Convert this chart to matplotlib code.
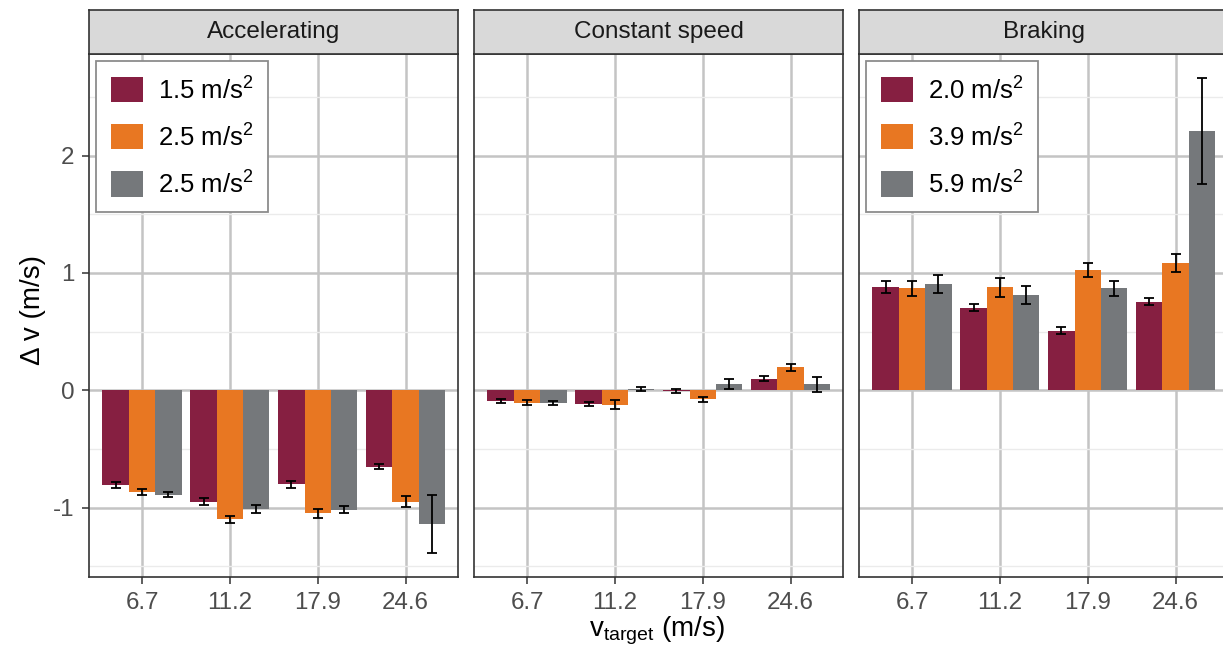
import numpy as np
import matplotlib
matplotlib.use('Agg')
import matplotlib.pyplot as plt

plt.rcParams['font.family'] = ['Liberation Sans', 'DejaVu Sans']
plt.rcParams['mathtext.fontset'] = 'custom'
plt.rcParams['mathtext.rm'] = 'Liberation Sans'
plt.rcParams['axes.unicode_minus'] = False

# speed targets and manoeuvre panels
categories = ['6.7', '11.2', '17.9', '24.6']
panels = ['Accelerating', 'Constant speed', 'Braking']

# mean delta v (m/s) for low / mid / high acceleration level
accel_low = [-0.81, -0.95, -0.80, -0.65]
accel_mid = [-0.87, -1.10, -1.05, -0.95]
accel_high = [-0.89, -1.01, -1.02, -1.14]
accel_low_err = [0.025, 0.03, 0.03, 0.02]
accel_mid_err = [0.027, 0.03, 0.035, 0.045]
accel_high_err = [0.02, 0.035, 0.03, 0.25]

const_low = [-0.094, -0.113, -0.005, 0.10]
const_mid = [-0.105, -0.122, -0.078, 0.198]
const_high = [-0.11, 0.012, 0.053, 0.053]
const_low_err = [0.018, 0.017, 0.018, 0.025]
const_mid_err = [0.02, 0.035, 0.02, 0.03]
const_high_err = [0.017, 0.02, 0.045, 0.064]

brake_low = [0.877, 0.703, 0.508, 0.754]
brake_mid = [0.868, 0.877, 1.025, 1.086]
brake_high = [0.905, 0.814, 0.868, 2.211]
brake_low_err = [0.051, 0.031, 0.031, 0.031]
brake_mid_err = [0.067, 0.079, 0.06, 0.077]
brake_high_err = [0.076, 0.076, 0.067, 0.454]

accel_labels = ['1.5 m/s$^{\\mathrm{2}}$', '2.5 m/s$^{\\mathrm{2}}$', '2.5 m/s$^{\\mathrm{2}}$']
brake_labels = ['2.0 m/s$^{\\mathrm{2}}$', '3.9 m/s$^{\\mathrm{2}}$', '5.9 m/s$^{\\mathrm{2}}$']

colors = ['#861F41', '#E87722', '#75787B']

panel_data = [
    ([accel_low, accel_mid, accel_high], [accel_low_err, accel_mid_err, accel_high_err], accel_labels),
    ([const_low, const_mid, const_high], [const_low_err, const_mid_err, const_high_err], None),
    ([brake_low, brake_mid, brake_high], [brake_low_err, brake_mid_err, brake_high_err], brake_labels),
]

W, H = 1223, 654
fig = plt.figure(figsize=(W / 100, H / 100), dpi=100)

lefts = [89.3, 474.3, 859.3]
pw = 369
top, bottom, strip_top = 54, 577, 10

x = np.arange(1, len(categories) + 1)
bw = 0.3
dark = '#333333'

for i, (title, (series, errs, labels)) in enumerate(zip(panels, panel_data)):
    ax = fig.add_axes([lefts[i] / W, (H - bottom) / H, pw / W, (bottom - top) / H])
    for k in range(3):
        ax.bar(x + (k - 1) * bw, series[k], width=bw, color=colors[k],
               label=labels[k] if labels else None, zorder=2)
        ax.errorbar(x + (k - 1) * bw, series[k], yerr=errs[k], fmt='none',
                    ecolor='black', elinewidth=1.3, capsize=3.5, capthick=1.3, zorder=3)

    ax.set_xlim(0.4, 4.6)
    ax.set_ylim(-1.592, 2.867)
    ax.set_xticks(x)
    ax.set_xticklabels(categories)
    ax.set_yticks([-1, 0, 1, 2])
    ax.set_yticks([-1.5, -0.5, 0.5, 1.5, 2.5], minor=True)
    ax.set_axisbelow(True)
    ax.grid(which='major', color='#C4C4C4', linewidth=1.8)
    ax.grid(which='minor', axis='y', color='#EBEBEB', linewidth=1.0)
    ax.tick_params(axis='both', which='major', labelsize=17.4, labelcolor='#4D4D4D',
                   color=dark, length=5, width=1.1, pad=6)
    ax.tick_params(axis='y', which='minor', length=0)
    if i > 0:
        ax.tick_params(axis='y', which='major', length=0, labelleft=False)
    for sp in ax.spines.values():
        sp.set_color(dark)
        sp.set_linewidth(1.2)

    if labels:
        leg = ax.legend(loc='upper left', fontsize=18.5, handlelength=1.25, handleheight=1.15,
                        labelspacing=0.75, borderpad=0.55, handletextpad=0.6,
                        borderaxespad=0.28, fancybox=False, framealpha=1)
        leg.get_frame().set_edgecolor('#8C8C8C')
        leg.get_frame().set_linewidth(1.3)

    # facet strip
    sax = fig.add_axes([lefts[i] / W, (H - top) / H, pw / W, (top - strip_top) / H])
    sax.set_facecolor('#D9D9D9')
    sax.set_xticks([])
    sax.set_yticks([])
    for sp in sax.spines.values():
        sp.set_color(dark)
        sp.set_linewidth(1.2)
    sax.text(0.5, 0.5, title, transform=sax.transAxes, ha='center', va='center',
             fontsize=17.5, color='#1A1A1A')

fig.text(33 / W, (H - 310) / H, '\u0394 v (m/s)', rotation=90, ha='center', va='center',
         fontsize=20, color='black')
fig.text(657 / W, (H - 636) / H, 'v$_{\\mathrm{target}}$ (m/s)', ha='center', va='baseline',
         fontsize=20, color='black')

fig.savefig('out.png', dpi=100)
